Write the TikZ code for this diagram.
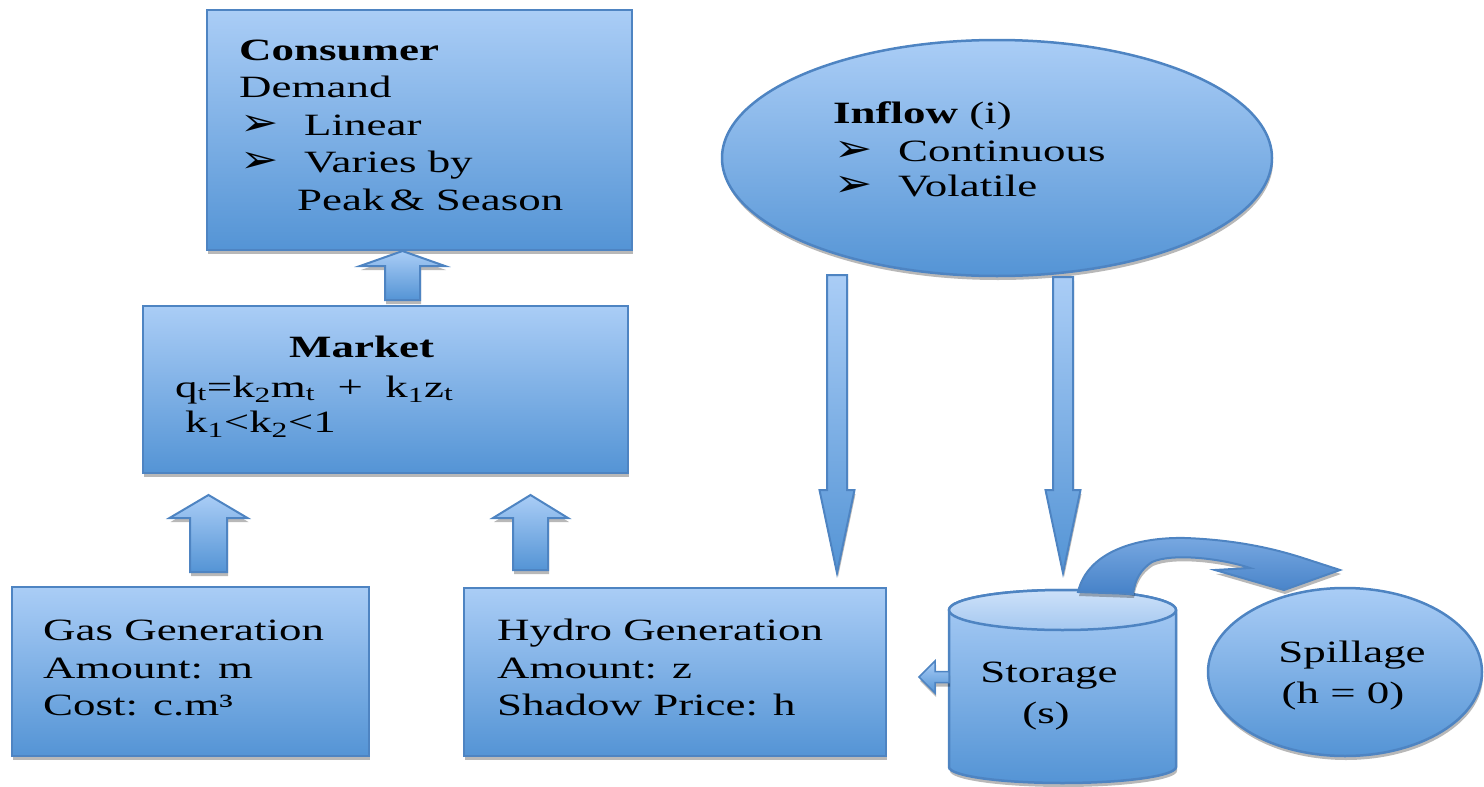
\documentclass[tikz,border=0pt]{standalone}
\usepackage{fontspec}
\usepackage{graphicx}
\setmainfont{Liberation Serif}[FakeStretch=1.45]
\newfontfamily\symfont{DejaVu Sans}
\usetikzlibrary{shadows,calc,shapes.geometric}
\definecolor{bxtop}{RGB}{170,205,246}
\definecolor{bxbot}{RGB}{84,148,213}
\definecolor{bxline}{RGB}{78,132,194}
\definecolor{captop}{RGB}{205,225,249}
\definecolor{capbot}{RGB}{165,200,240}
\definecolor{arrtop}{RGB}{120,168,225}
\definecolor{arrbot}{RGB}{70,130,200}
\tikzset{
  shapefill/.style={top color=bxtop, bottom color=bxbot, draw=bxline, line width=2.5pt},
  shad/.style={drop shadow={shadow xshift=1pt, shadow yshift=-4pt, opacity=0.28, fill=black}},
  box/.style={shapefill, shad, rectangle, inner sep=0pt},
  oval/.style={shapefill, shad, ellipse, inner sep=0pt},
  blk/.style={shapefill, line width=2pt, shad},
  txt/.style={anchor=base west, inner sep=0pt, font=\fontsize{31}{37}\selectfont},
  ctxt/.style={txt, anchor=base},
  bulnode/.style={txt, text height=18pt, text depth=0pt},
}
\newcommand\bul{\scalebox{1.2}[1]{\symfont\fontsize{38}{38}\selectfont ➢}}
% vertical block arrow: tail coord, tip coord, shaft half, head half, head length (signed, canvas up positive)
\newcommand\blockv[5]{\path[blk] let \p1=(#1), \p2=(#2) in
  (\x1-#3pt,\y1) -- (\x1-#3pt,{\y2-(#5)*1pt}) -- (\x1-#4pt,{\y2-(#5)*1pt}) -- (\x2,\y2)
  -- (\x1+#4pt,{\y2-(#5)*1pt}) -- (\x1+#3pt,{\y2-(#5)*1pt}) -- (\x1+#3pt,\y1) -- cycle;}
\begin{document}
\begin{tikzpicture}[x=1pt,y=-1pt]
\useasboundingbox (0,0) rectangle (1484,787);

% ---- boxes ----
\node[box, minimum width=425pt, minimum height=240pt] (cons) at (419.5,130) {};
\node[box, minimum width=485pt, minimum height=167pt] (mkt) at (385.5,389.5) {};
\node[box, minimum width=357pt, minimum height=169pt] (gas) at (190.5,671.5) {};
\node[box, minimum width=422pt, minimum height=168pt] (hyd) at (675,672) {};
\node[oval, minimum width=550pt, minimum height=236pt] (infl) at (997,158) {};
\node[oval, minimum width=274pt, minimum height=168pt] (spill) at (1345,672) {};

% ---- storage cylinder ----
\path[shapefill, shad] (949,610) -- (949,767)
  arc[start angle=180, end angle=360, x radius=113.5pt, y radius=16pt]
  -- (1176,610)
  arc[start angle=0, end angle=180, x radius=113.5pt, y radius=20pt] -- cycle;
\path[top color=captop, bottom color=capbot, draw=bxline, line width=2.5pt]
  (1062.5,610) ellipse[x radius=113.5pt, y radius=20pt];

% ---- connectors (block arrows) ----
\coordinate (a1t) at (402.5,300); \coordinate (a1h) at (402.5,251);
\coordinate (a2t) at (208.5,572); \coordinate (a2h) at (208.5,495);
\coordinate (a3t) at (530.5,570); \coordinate (a3h) at (530.5,495);
\coordinate (a4t) at (837,275);   \coordinate (a4h) at (837,573);
\coordinate (a5t) at (1063,277);  \coordinate (a5h) at (1063,573);
\blockv{a1t}{a1h}{17.5}{42.5}{15}
\blockv{a2t}{a2h}{18.5}{39}{23}
\blockv{a3t}{a3h}{17.5}{37.5}{23}
\blockv{a4t}{a4h}{10}{17.5}{-83}
\blockv{a5t}{a5h}{10}{17.5}{-83}

% storage -> hydro small arrow
\coordinate (stl) at (949,677); \coordinate (sth) at (919,677);
\path[blk, line width=1.5pt] let \p1=(stl), \p2=(sth) in
  (\x1,\y1+5.5pt) -- (\x2+16pt,\y1+5.5pt) -- (\x2+16pt,\y1+16pt) -- (\x2,\y2)
  -- (\x2+16pt,\y1-16pt) -- (\x2+16pt,\y1-5.5pt) -- (\x1,\y1-5.5pt) -- cycle;

% storage -> spillage curved arrow
\path[blk, top color=arrtop, bottom color=arrbot] (1078,592) .. controls (1088,550) and (1140,537) .. (1185,538)
  .. controls (1240,540) and (1278,550) .. (1303,558)
  -- (1340,570) -- (1284,590) -- (1215,570) -- (1250,568)
  .. controls (1220,558) and (1172,553) .. (1152,562)
  .. controls (1140,570) and (1135,580) .. (1133,594) -- cycle;

% ---- texts ----
\node[txt] (ct1) at (239,60) {\textbf{Consumer}};
\node[txt] (ct2) at (239,97) {Demand};
\node[bulnode] (cb1) at (240,135) {\bul};
\node[txt] (ct3) at (304,135) {Linear};
\node[bulnode] (cb2) at (240,172) {\bul};
\node[txt] (ct4) at (304,172) {Varies by};
\node[txt] (ct5) at (297,210) {Peak\,\& Season};

\node[txt] (mt1) at (289,357) {\textbf{Market}};
\node[txt] (mt2) at (175,397) {q\textsubscript{t}=k\textsubscript{2}m\textsubscript{t}\ \ +\ \ k\textsubscript{1}z\textsubscript{t}};
\node[txt] (mt3) at (185,432) {k\textsubscript{1}<k\textsubscript{2}<1};

\node[txt] (it1) at (833,123) {\textbf{Inflow} (i)};
\node[bulnode] (ib1) at (834,161) {\bul};
\node[txt] (it2) at (898,161) {Continuous};
\node[bulnode] (ib2) at (834,196) {\bul};
\node[txt] (it3) at (898,196) {Volatile};

\node[txt] (gt1) at (43,640) {Gas Generation};
\node[txt] (gt2) at (43,678) {Amount: m};
\node[txt] (gt3) at (43,715) {Cost: c.m³};

\node[txt] (ht1) at (497,640) {Hydro Generation};
\node[txt] (ht2) at (497,678) {Amount: z};
\node[txt] (ht3) at (497,715) {Shadow Price: h};

\node[ctxt] (st1) at (1049,682) {Storage};
\node[ctxt] (st2) at (1046,723) {(s)};

\node[ctxt] (sp1) at (1352,662) {Spillage};
\node[ctxt] (sp2) at (1343,703) {(h = 0)};
\end{tikzpicture}
\end{document}
